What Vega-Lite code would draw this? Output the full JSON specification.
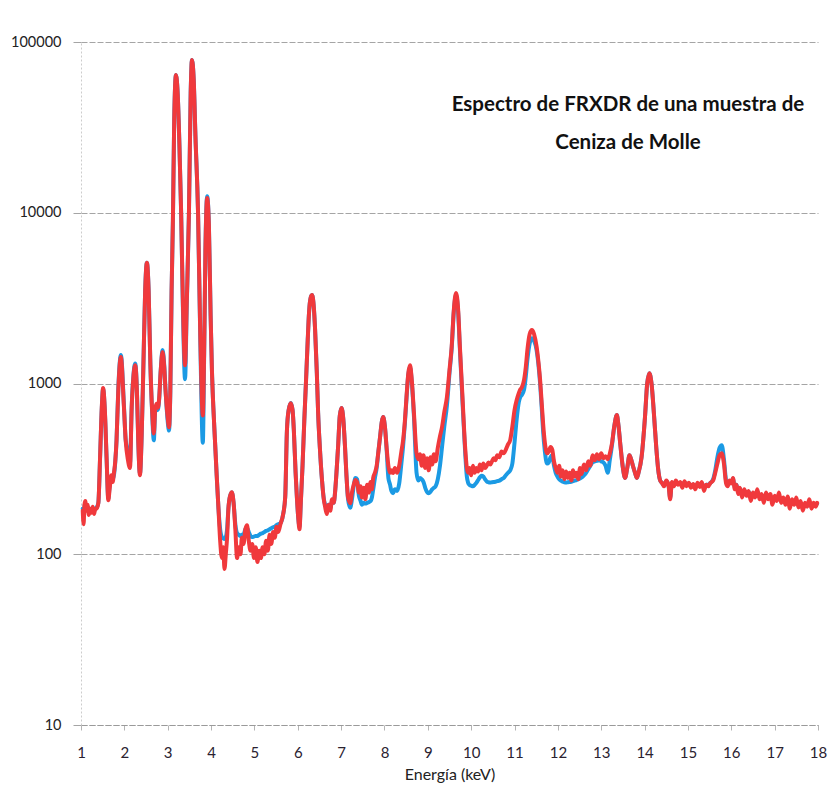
{
  "$schema": "https://vega.github.io/schema/vega-lite/v6.json",
  "width": 737,
  "height": 683,
  "autosize": {"type": "none"},
  "padding": {"left": 81, "top": 42, "right": 15, "bottom": 77},
  "background": "white",
  "title": {
    "text": ["Espectro de FRXDR de una muestra de", "Ceniza de Molle"],
    "anchor": "end",
    "frame": "group",
    "align": "center",
    "baseline": "top",
    "offset": -65,
    "dx": -190,
    "dy": 54,
    "lineHeight": 38,
    "font": "Lato",
    "fontSize": 20.5,
    "fontWeight": "bold",
    "color": "#111111"
  },
  "data": {"values": [
    {"kev":1.04,"rojo":180,"azul":185},{"kev":1.06,"rojo":150,"azul":175},{"kev":1.08,"rojo":195,"azul":190},{"kev":1.10,"rojo":205,"azul":200},
    {"kev":1.12,"rojo":180,"azul":185},{"kev":1.15,"rojo":195,"azul":190},{"kev":1.18,"rojo":170,"azul":180},{"kev":1.21,"rojo":185,"azul":185},
    {"kev":1.24,"rojo":175,"azul":178},{"kev":1.27,"rojo":190,"azul":185},{"kev":1.30,"rojo":172,"azul":178},{"kev":1.33,"rojo":185,"azul":185},
    {"kev":1.36,"rojo":185,"azul":188},{"kev":1.40,"rojo":200,"azul":200},{"kev":1.44,"rojo":370,"azul":365},{"kev":1.48,"rojo":730,"azul":720},
    {"kev":1.51,"rojo":940,"azul":930},{"kev":1.55,"rojo":700,"azul":690},{"kev":1.59,"rojo":370,"azul":365},{"kev":1.63,"rojo":207,"azul":212},
    {"kev":1.66,"rojo":240,"azul":250},{"kev":1.70,"rojo":290,"azul":285},{"kev":1.73,"rojo":265,"azul":275},{"kev":1.76,"rojo":300,"azul":290},
    {"kev":1.79,"rojo":350,"azul":345},{"kev":1.82,"rojo":466,"azul":466},{"kev":1.86,"rojo":910,"azul":930},{"kev":1.92,"rojo":1430,"azul":1470},
    {"kev":1.99,"rojo":730,"azul":750},{"kev":2.03,"rojo":466,"azul":470},{"kev":2.08,"rojo":360,"azul":400},{"kev":2.13,"rojo":320,"azul":340},
    {"kev":2.17,"rojo":730,"azul":740},{"kev":2.21,"rojo":1100,"azul":1120},{"kev":2.25,"rojo":1280,"azul":1310},{"kev":2.29,"rojo":900,"azul":910},
    {"kev":2.32,"rojo":466,"azul":466},{"kev":2.36,"rojo":290,"azul":295},{"kev":2.40,"rojo":500,"azul":500},{"kev":2.44,"rojo":1300,"azul":1300},
    {"kev":2.48,"rojo":3500,"azul":3500},{"kev":2.52,"rojo":5100,"azul":5100},{"kev":2.56,"rojo":3500,"azul":3500},{"kev":2.60,"rojo":1300,"azul":1300},
    {"kev":2.64,"rojo":700,"azul":680},{"kev":2.68,"rojo":510,"azul":465},{"kev":2.71,"rojo":700,"azul":680},{"kev":2.74,"rojo":760,"azul":740},
    {"kev":2.77,"rojo":720,"azul":700},{"kev":2.80,"rojo":800,"azul":790},{"kev":2.84,"rojo":1200,"azul":1200},{"kev":2.88,"rojo":1530,"azul":1570},
    {"kev":2.92,"rojo":1250,"azul":1280},{"kev":2.95,"rojo":910,"azul":920},{"kev":3.00,"rojo":630,"azul":600},{"kev":3.03,"rojo":555,"azul":530},
    {"kev":3.06,"rojo":900,"azul":880},{"kev":3.09,"rojo":3500,"azul":3500},{"kev":3.12,"rojo":9000,"azul":9000},{"kev":3.15,"rojo":35000,"azul":35000},
    {"kev":3.19,"rojo":64000,"azul":64000},{"kev":3.23,"rojo":50000,"azul":50000},{"kev":3.27,"rojo":25000,"azul":25000},{"kev":3.31,"rojo":10000,"azul":10000},
    {"kev":3.35,"rojo":3000,"azul":2800},{"kev":3.40,"rojo":1280,"azul":1060},{"kev":3.44,"rojo":3000,"azul":2900},{"kev":3.49,"rojo":10000,"azul":10000},
    {"kev":3.53,"rojo":50000,"azul":50000},{"kev":3.56,"rojo":78500,"azul":78500},{"kev":3.60,"rojo":60000,"azul":60000},{"kev":3.64,"rojo":28000,"azul":28000},
    {"kev":3.70,"rojo":10000,"azul":10000},{"kev":3.75,"rojo":2000,"azul":1900},{"kev":3.81,"rojo":650,"azul":450},{"kev":3.84,"rojo":1500,"azul":1400},
    {"kev":3.87,"rojo":6000,"azul":6000},{"kev":3.91,"rojo":12200,"azul":12500},{"kev":3.95,"rojo":8500,"azul":8500},{"kev":3.99,"rojo":2500,"azul":2500},
    {"kev":4.02,"rojo":1200,"azul":1200},{"kev":4.05,"rojo":750,"azul":750},{"kev":4.09,"rojo":466,"azul":466},{"kev":4.13,"rojo":290,"azul":290},
    {"kev":4.17,"rojo":187,"azul":187},{"kev":4.21,"rojo":120,"azul":140},{"kev":4.25,"rojo":95,"azul":126},{"kev":4.28,"rojo":110,"azul":124},
    {"kev":4.31,"rojo":82,"azul":123},{"kev":4.34,"rojo":100,"azul":126},{"kev":4.37,"rojo":125,"azul":140},{"kev":4.40,"rojo":185,"azul":185},
    {"kev":4.44,"rojo":220,"azul":220},{"kev":4.48,"rojo":231,"azul":230},{"kev":4.52,"rojo":200,"azul":200},{"kev":4.56,"rojo":140,"azul":150},
    {"kev":4.60,"rojo":95,"azul":133},{"kev":4.64,"rojo":110,"azul":130},{"kev":4.68,"rojo":100,"azul":128},{"kev":4.71,"rojo":125,"azul":130},
    {"kev":4.75,"rojo":115,"azul":130},{"kev":4.79,"rojo":140,"azul":140},{"kev":4.83,"rojo":148,"azul":142},{"kev":4.87,"rojo":120,"azul":135},
    {"kev":4.91,"rojo":105,"azul":128},{"kev":4.95,"rojo":115,"azul":126},{"kev":4.99,"rojo":95,"azul":127},{"kev":5.03,"rojo":110,"azul":128},
    {"kev":5.07,"rojo":90,"azul":128},{"kev":5.11,"rojo":105,"azul":130},{"kev":5.15,"rojo":95,"azul":132},{"kev":5.19,"rojo":110,"azul":133},
    {"kev":5.23,"rojo":100,"azul":135},{"kev":5.27,"rojo":120,"azul":137},{"kev":5.31,"rojo":105,"azul":138},{"kev":5.35,"rojo":130,"azul":140},
    {"kev":5.39,"rojo":115,"azul":142},{"kev":5.43,"rojo":135,"azul":144},{"kev":5.47,"rojo":125,"azul":145},{"kev":5.51,"rojo":145,"azul":148},
    {"kev":5.55,"rojo":135,"azul":150},{"kev":5.60,"rojo":150,"azul":152},{"kev":5.66,"rojo":170,"azul":170},{"kev":5.71,"rojo":215,"azul":215},
    {"kev":5.75,"rojo":530,"azul":530},{"kev":5.79,"rojo":700,"azul":700},{"kev":5.84,"rojo":767,"azul":770},{"kev":5.88,"rojo":700,"azul":700},
    {"kev":5.91,"rojo":530,"azul":530},{"kev":5.95,"rojo":300,"azul":300},{"kev":5.98,"rojo":215,"azul":215},{"kev":6.01,"rojo":165,"azul":165},
    {"kev":6.04,"rojo":140,"azul":145},{"kev":6.07,"rojo":200,"azul":200},{"kev":6.11,"rojo":330,"azul":330},{"kev":6.15,"rojo":600,"azul":600},
    {"kev":6.19,"rojo":1030,"azul":1030},{"kev":6.23,"rojo":1800,"azul":1800},{"kev":6.26,"rojo":2600,"azul":2600},{"kev":6.30,"rojo":3200,"azul":3200},
    {"kev":6.33,"rojo":3300,"azul":3300},{"kev":6.37,"rojo":2800,"azul":2800},{"kev":6.40,"rojo":2060,"azul":2060},{"kev":6.44,"rojo":1150,"azul":1150},
    {"kev":6.47,"rojo":670,"azul":670},{"kev":6.51,"rojo":420,"azul":420},{"kev":6.56,"rojo":270,"azul":270},{"kev":6.60,"rojo":210,"azul":212},
    {"kev":6.63,"rojo":190,"azul":195},{"kev":6.67,"rojo":172,"azul":185},{"kev":6.71,"rojo":195,"azul":195},{"kev":6.75,"rojo":180,"azul":185},
    {"kev":6.79,"rojo":210,"azul":205},{"kev":6.83,"rojo":200,"azul":200},{"kev":6.86,"rojo":230,"azul":230},{"kev":6.90,"rojo":320,"azul":320},
    {"kev":6.93,"rojo":425,"azul":425},{"kev":6.97,"rojo":650,"azul":650},{"kev":7.01,"rojo":718,"azul":718},{"kev":7.05,"rojo":620,"azul":620},
    {"kev":7.09,"rojo":425,"azul":425},{"kev":7.12,"rojo":300,"azul":300},{"kev":7.16,"rojo":215,"azul":210},{"kev":7.21,"rojo":199,"azul":187},
    {"kev":7.25,"rojo":230,"azul":210},{"kev":7.29,"rojo":255,"azul":250},{"kev":7.33,"rojo":272,"azul":280},{"kev":7.37,"rojo":265,"azul":275},
    {"kev":7.41,"rojo":230,"azul":220},{"kev":7.45,"rojo":250,"azul":205},{"kev":7.48,"rojo":215,"azul":195},{"kev":7.52,"rojo":245,"azul":200},
    {"kev":7.56,"rojo":210,"azul":198},{"kev":7.60,"rojo":255,"azul":200},{"kev":7.64,"rojo":230,"azul":202},{"kev":7.68,"rojo":265,"azul":205},
    {"kev":7.71,"rojo":240,"azul":215},{"kev":7.74,"rojo":280,"azul":240},{"kev":7.78,"rojo":300,"azul":280},{"kev":7.82,"rojo":330,"azul":320},
    {"kev":7.86,"rojo":400,"azul":400},{"kev":7.90,"rojo":490,"azul":490},{"kev":7.94,"rojo":600,"azul":600},{"kev":7.97,"rojo":636,"azul":636},
    {"kev":8.01,"rojo":560,"azul":560},{"kev":8.05,"rojo":420,"azul":410},{"kev":8.09,"rojo":330,"azul":280},{"kev":8.13,"rojo":300,"azul":255},
    {"kev":8.16,"rojo":310,"azul":235},{"kev":8.20,"rojo":299,"azul":228},{"kev":8.24,"rojo":320,"azul":240},{"kev":8.29,"rojo":300,"azul":235},
    {"kev":8.34,"rojo":330,"azul":260},{"kev":8.39,"rojo":400,"azul":340},{"kev":8.43,"rojo":466,"azul":430},{"kev":8.47,"rojo":600,"azul":580},
    {"kev":8.51,"rojo":850,"azul":830},{"kev":8.55,"rojo":1150,"azul":1130},{"kev":8.59,"rojo":1280,"azul":1250},{"kev":8.63,"rojo":1050,"azul":1020},
    {"kev":8.68,"rojo":670,"azul":640},{"kev":8.74,"rojo":390,"azul":300},{"kev":8.78,"rojo":360,"azul":270},{"kev":8.82,"rojo":385,"azul":280},
    {"kev":8.86,"rojo":330,"azul":275},{"kev":8.90,"rojo":380,"azul":265},{"kev":8.94,"rojo":320,"azul":245},{"kev":8.98,"rojo":365,"azul":232},
    {"kev":9.02,"rojo":310,"azul":228},{"kev":9.06,"rojo":370,"azul":232},{"kev":9.10,"rojo":335,"azul":240},{"kev":9.14,"rojo":385,"azul":245},
    {"kev":9.18,"rojo":350,"azul":250},{"kev":9.23,"rojo":420,"azul":275},{"kev":9.28,"rojo":490,"azul":330},{"kev":9.33,"rojo":560,"azul":430},
    {"kev":9.38,"rojo":680,"azul":560},{"kev":9.44,"rojo":830,"azul":740},{"kev":9.50,"rojo":1200,"azul":1150},{"kev":9.55,"rojo":1640,"azul":1600},
    {"kev":9.60,"rojo":2700,"azul":2650},{"kev":9.65,"rojo":3390,"azul":3300},{"kev":9.70,"rojo":2700,"azul":2600},{"kev":9.74,"rojo":1640,"azul":1580},
    {"kev":9.80,"rojo":830,"azul":780},{"kev":9.86,"rojo":425,"azul":400},{"kev":9.90,"rojo":320,"azul":285},{"kev":9.93,"rojo":300,"azul":262},
    {"kev":9.96,"rojo":320,"azul":255},{"kev":10.00,"rojo":290,"azul":252},{"kev":10.04,"rojo":330,"azul":250},{"kev":10.08,"rojo":300,"azul":255},
    {"kev":10.12,"rojo":320,"azul":262},{"kev":10.16,"rojo":305,"azul":272},{"kev":10.20,"rojo":335,"azul":282},{"kev":10.24,"rojo":310,"azul":288},
    {"kev":10.28,"rojo":340,"azul":285},{"kev":10.32,"rojo":320,"azul":275},{"kev":10.36,"rojo":330,"azul":267},{"kev":10.40,"rojo":345,"azul":264},
    {"kev":10.44,"rojo":335,"azul":263},{"kev":10.48,"rojo":350,"azul":264},{"kev":10.52,"rojo":365,"azul":265},{"kev":10.56,"rojo":355,"azul":266},
    {"kev":10.60,"rojo":380,"azul":268},{"kev":10.65,"rojo":370,"azul":270},{"kev":10.70,"rojo":400,"azul":275},{"kev":10.75,"rojo":390,"azul":280},
    {"kev":10.80,"rojo":410,"azul":290},{"kev":10.85,"rojo":440,"azul":300},{"kev":10.90,"rojo":466,"azul":310},{"kev":10.95,"rojo":560,"azul":340},
    {"kev":11.00,"rojo":700,"azul":450},{"kev":11.05,"rojo":800,"azul":620},{"kev":11.10,"rojo":880,"azul":780},{"kev":11.13,"rojo":920,"azul":830},
    {"kev":11.17,"rojo":950,"azul":860},{"kev":11.22,"rojo":1050,"azul":920},{"kev":11.26,"rojo":1250,"azul":1100},{"kev":11.30,"rojo":1600,"azul":1400},
    {"kev":11.35,"rojo":1950,"azul":1720},{"kev":11.40,"rojo":2060,"azul":1840},{"kev":11.45,"rojo":1950,"azul":1780},{"kev":11.51,"rojo":1640,"azul":1560},
    {"kev":11.55,"rojo":1350,"azul":1300},{"kev":11.59,"rojo":1050,"azul":1000},{"kev":11.63,"rojo":750,"azul":700},{"kev":11.66,"rojo":580,"azul":520},
    {"kev":11.70,"rojo":450,"azul":400},{"kev":11.75,"rojo":390,"azul":340},{"kev":11.79,"rojo":400,"azul":345},{"kev":11.83,"rojo":425,"azul":370},
    {"kev":11.87,"rojo":410,"azul":380},{"kev":11.91,"rojo":350,"azul":330},{"kev":11.95,"rojo":320,"azul":300},{"kev":11.99,"rojo":300,"azul":285},
    {"kev":12.03,"rojo":330,"azul":275},{"kev":12.07,"rojo":285,"azul":270},{"kev":12.11,"rojo":310,"azul":266},{"kev":12.15,"rojo":275,"azul":264},
    {"kev":12.19,"rojo":305,"azul":263},{"kev":12.23,"rojo":280,"azul":264},{"kev":12.27,"rojo":300,"azul":265},{"kev":12.31,"rojo":270,"azul":266},
    {"kev":12.35,"rojo":310,"azul":268},{"kev":12.39,"rojo":285,"azul":270},{"kev":12.43,"rojo":300,"azul":272},{"kev":12.47,"rojo":275,"azul":275},
    {"kev":12.51,"rojo":320,"azul":278},{"kev":12.55,"rojo":295,"azul":282},{"kev":12.60,"rojo":335,"azul":290},{"kev":12.65,"rojo":310,"azul":300},
    {"kev":12.70,"rojo":350,"azul":315},{"kev":12.75,"rojo":330,"azul":330},{"kev":12.80,"rojo":380,"azul":345},{"kev":12.85,"rojo":355,"azul":350},
    {"kev":12.90,"rojo":385,"azul":352},{"kev":12.95,"rojo":360,"azul":355},{"kev":13.00,"rojo":390,"azul":350},{"kev":13.05,"rojo":365,"azul":345},
    {"kev":13.10,"rojo":375,"azul":330},{"kev":13.15,"rojo":360,"azul":300},{"kev":13.20,"rojo":390,"azul":360},{"kev":13.25,"rojo":450,"azul":440},
    {"kev":13.30,"rojo":560,"azul":560},{"kev":13.36,"rojo":653,"azul":653},{"kev":13.40,"rojo":560,"azul":560},{"kev":13.44,"rojo":440,"azul":440},
    {"kev":13.50,"rojo":320,"azul":320},{"kev":13.55,"rojo":280,"azul":280},{"kev":13.60,"rojo":320,"azul":320},{"kev":13.65,"rojo":380,"azul":380},
    {"kev":13.69,"rojo":360,"azul":360},{"kev":13.73,"rojo":330,"azul":330},{"kev":13.78,"rojo":300,"azul":300},{"kev":13.82,"rojo":280,"azul":280},
    {"kev":13.86,"rojo":300,"azul":300},{"kev":13.93,"rojo":370,"azul":370},{"kev":14.01,"rojo":640,"azul":640},{"kev":14.06,"rojo":1000,"azul":1000},
    {"kev":14.11,"rojo":1150,"azul":1150},{"kev":14.16,"rojo":1000,"azul":1000},{"kev":14.22,"rojo":640,"azul":640},{"kev":14.27,"rojo":420,"azul":420},
    {"kev":14.31,"rojo":320,"azul":320},{"kev":14.36,"rojo":270,"azul":270},{"kev":14.40,"rojo":262,"azul":262},{"kev":14.45,"rojo":250,"azul":252},
    {"kev":14.50,"rojo":270,"azul":268},{"kev":14.55,"rojo":255,"azul":256},{"kev":14.59,"rojo":210,"azul":215},{"kev":14.63,"rojo":265,"azul":262},
    {"kev":14.68,"rojo":250,"azul":255},{"kev":14.72,"rojo":270,"azul":268},{"kev":14.77,"rojo":255,"azul":258},{"kev":14.82,"rojo":265,"azul":262},
    {"kev":14.87,"rojo":245,"azul":250},{"kev":14.92,"rojo":268,"azul":265},{"kev":14.97,"rojo":250,"azul":255},{"kev":15.02,"rojo":262,"azul":260},
    {"kev":15.07,"rojo":245,"azul":250},{"kev":15.12,"rojo":258,"azul":256},{"kev":15.17,"rojo":240,"azul":248},{"kev":15.22,"rojo":262,"azul":258},
    {"kev":15.27,"rojo":248,"azul":252},{"kev":15.32,"rojo":265,"azul":260},{"kev":15.37,"rojo":235,"azul":245},{"kev":15.42,"rojo":255,"azul":255},
    {"kev":15.47,"rojo":250,"azul":255},{"kev":15.52,"rojo":262,"azul":262},{"kev":15.58,"rojo":270,"azul":275},{"kev":15.63,"rojo":300,"azul":310},
    {"kev":15.68,"rojo":340,"azul":370},{"kev":15.73,"rojo":380,"azul":420},{"kev":15.78,"rojo":390,"azul":435},{"kev":15.83,"rojo":340,"azul":360},
    {"kev":15.88,"rojo":260,"azul":270},{"kev":15.92,"rojo":250,"azul":255},{"kev":15.96,"rojo":270,"azul":268},{"kev":16.00,"rojo":260,"azul":262},
    {"kev":16.04,"rojo":280,"azul":278},{"kev":16.08,"rojo":240,"azul":245},{"kev":16.12,"rojo":255,"azul":255},{"kev":16.16,"rojo":225,"azul":232},
    {"kev":16.20,"rojo":245,"azul":242},{"kev":16.25,"rojo":215,"azul":225},{"kev":16.30,"rojo":240,"azul":236},{"kev":16.35,"rojo":220,"azul":228},
    {"kev":16.40,"rojo":235,"azul":232},{"kev":16.45,"rojo":205,"azul":222},{"kev":16.50,"rojo":230,"azul":228},{"kev":16.55,"rojo":215,"azul":222},
    {"kev":16.60,"rojo":240,"azul":232},{"kev":16.65,"rojo":210,"azul":220},{"kev":16.70,"rojo":225,"azul":222},{"kev":16.75,"rojo":200,"azul":215},
    {"kev":16.80,"rojo":230,"azul":220},{"kev":16.85,"rojo":210,"azul":215},{"kev":16.90,"rojo":225,"azul":218},{"kev":16.95,"rojo":195,"azul":212},
    {"kev":17.00,"rojo":220,"azul":212},{"kev":17.05,"rojo":205,"azul":210},{"kev":17.10,"rojo":230,"azul":212},{"kev":17.15,"rojo":200,"azul":208},
    {"kev":17.20,"rojo":215,"azul":206},{"kev":17.25,"rojo":195,"azul":205},{"kev":17.30,"rojo":218,"azul":205},{"kev":17.35,"rojo":185,"azul":200},
    {"kev":17.40,"rojo":210,"azul":200},{"kev":17.45,"rojo":195,"azul":198},{"kev":17.50,"rojo":215,"azul":200},{"kev":17.55,"rojo":188,"azul":196},
    {"kev":17.60,"rojo":205,"azul":195},{"kev":17.65,"rojo":180,"azul":194},{"kev":17.70,"rojo":200,"azul":194},{"kev":17.75,"rojo":190,"azul":192},
    {"kev":17.80,"rojo":210,"azul":195},{"kev":17.85,"rojo":185,"azul":192},{"kev":17.90,"rojo":200,"azul":192},{"kev":17.95,"rojo":190,"azul":195},
    {"kev":17.98,"rojo":200,"azul":198}
  ]},
  "encoding": {
    "x": {
      "field": "kev",
      "type": "quantitative",
      "scale": {"domain": [1, 18], "nice": false, "zero": false},
      "axis": {
        "title": "Energía (keV)",
        "values": [1, 2, 3, 4, 5, 6, 7, 8, 9, 10, 11, 12, 13, 14, 15, 16, 17, 18],
        "format": "d",
        "grid": false,
        "domainColor": "#9a9a9a",
        "domainDash": [6, 2],
        "tickColor": "#b5b5b5",
        "tickSize": 5,
        "labelPadding": 15,
        "labelFlush": false,
        "labelFontSize": 15,
        "labelColor": "#2a2230",
        "titleFontSize": 16,
        "titleFontWeight": "normal",
        "titleColor": "#222222",
        "titlePadding": 6
      }
    },
    "y": {
      "field": "azul",
      "type": "quantitative",
      "scale": {"type": "log", "domain": [10, 100000], "nice": false},
      "axis": {
        "title": null,
        "values": [10, 100, 1000, 10000, 100000],
        "format": "d",
        "grid": true,
        "gridColor": "#a5a5a5",
        "gridDash": [6, 2],
        "domainColor": "#cccccc",
        "domainDash": [2, 2],
        "tickColor": "#a5a5a5",
        "tickSize": 8,
        "labelPadding": 12,
        "labelFontSize": 14.5,
        "labelColor": "#222222"
      }
    }
  },
  "layer": [
    {
      "mark": {"type": "line", "color": "#1b9ae4", "strokeWidth": 4, "interpolate": "monotone", "strokeJoin": "round", "strokeCap": "round"}
    },
    {
      "mark": {"type": "line", "color": "#f0393c", "strokeWidth": 4, "interpolate": "monotone", "strokeJoin": "round", "strokeCap": "round"},
      "encoding": {
        "y": {"field": "rojo", "type": "quantitative"}
      }
    }
  ],
  "config": {
    "view": {"stroke": null},
    "font": "Lato",
    "axis": {"labelFont": "Lato", "titleFont": "Lato"}
  }
}
